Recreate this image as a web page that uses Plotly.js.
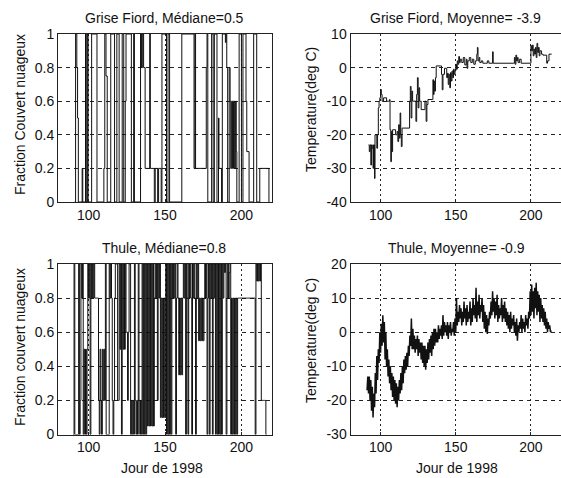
<!DOCTYPE html>
<html><head><meta charset="utf-8">
<script src="https://cdn.plot.ly/plotly-3.0.1.min.js"></script>
<style>html,body{margin:0;padding:0;background:#fff}#chart{width:561px;height:478px}</style>
</head><body><div id="chart"></div>
<script>
// ---- tick labels ----
const xTickVals = [100, 150, 200];
const xTickText = ['100', '150', '200'];
const cloudTickVals = [0, 0.2, 0.4, 0.6, 0.8, 1];
const cloudTickText = ['0', '0.2', '0.4', '0.6', '0.8', '1'];
const gfTempTickVals = [-40, -30, -20, -10, 0, 10];
const gfTempTickText = ['-40', '-30', '-20', '-10', '0', '10'];
const thTempTickVals = [-30, -20, -10, 0, 10, 20];
const thTempTickText = ['-30', '-20', '-10', '0', '10', '20'];

// ---- Grise Fiord cloud fraction (step changes) ----
const gfCloudDay = [91.0,91.5,92.3,92.8,93.3,95.8,96.2,98.0,98.5,99.2,99.7,102.0,105.5,110.0,110.6,111.4,112.2,114.5,117.0,118.5,
  120.0,122.0,123.0,124.0,124.5,128.0,129.5,130.0,134.0,134.6,135.4,136.0,137.0,140.0,140.4,143.0,143.6,145.2,145.8,147.5,
  148.0,151.0,152.0,153.0,161.0,169.0,169.6,170.0,177.0,177.5,178.0,180.5,181.5,182.3,184.0,185.0,185.3,187.0,187.5,189.5,
  190.0,190.4,191.0,192.0,192.6,193.0,193.6,194.2,194.8,195.4,196.2,196.6,197.0,198.5,200.0,201.0,203.0,203.5,205.0,208.0,
  210.0,212.0,218.0];
const gfCloud = [0,1,0.8,0.5,0,0.2,0,1,0,1,0,1,0,0.2,1,0.75,0,1,0,1,
  0,1,0,0.6,1,0,1,0,1,0.8,1,0.8,0.2,1,0.2,0,0.2,0,0.2,0,
  1,0,1,0,1,0.2,1,0.2,0.8,1,0,1,0,1,0,0.5,0.2,0,1,0.95,
  1,0.8,0,0.8,0.6,0.2,0.6,0.2,0.6,0.2,0.6,0.3,0,1,0,1,0.6,0.3,0,1,
  0,0.2,0];

// ---- Grise Fiord temperature (step changes) ----
const gfTempDay = [92.0,92.5,93.0,93.5,94.0,94.5,95.0,95.3,96.0,96.3,97.5,98.0,98.5,99.0,99.5,100.0,100.5,101.0,102.0,104.0,
  106.0,106.3,106.8,107.2,107.6,108.0,110.0,111.0,111.5,112.0,112.5,113.0,113.4,113.8,114.3,115.0,119.3,119.8,120.3,120.8,
  121.3,123.0,123.5,124.0,124.5,125.0,125.5,126.0,127.0,129.0,129.5,130.3,130.8,131.5,134.5,134.8,135.2,135.6,136.0,136.5,
  137.0,140.0,140.5,141.0,141.5,142.5,144.0,144.5,145.0,145.5,146.0,146.5,147.0,147.5,148.0,148.5,149.0,149.5,150.0,150.5,
  151.0,151.5,152.0,152.5,153.0,154.0,155.0,156.0,157.0,157.5,158.0,159.0,160.0,161.0,162.0,163.0,164.0,164.4,164.8,165.5,
  166.0,167.0,168.0,170.0,171.0,172.0,174.5,174.9,188.5,189.0,189.5,190.0,190.5,191.0,191.5,192.5,193.5,199.6,200.0,200.5,
  201.0,201.5,202.0,202.5,203.0,203.5,204.0,204.5,205.0,205.5,206.0,207.0,208.0,210.0,210.5,211.0,212.0,213.8];
const gfTemp = [-23,-25,-23,-29,-23,-24,-30,-23,-33,-20,-24,-20,-12,-10,-9,-6.5,-8,-10,-9,-10,
  -9.5,-18.5,-28,-19,-25,-18.5,-20,-19,-22,-17,-21,-13.5,-20,-23.5,-18,-18,-10,-5.6,-15,-7,
  -10,-10,-16,-8,-3,-12,-6,-10,-12.5,-12.5,-10,-16,-11,-9.5,-9.5,-3.6,-8,-4,-7,-3,
  0.5,0.5,-2,-6.6,-2,-0.2,-3,-1.7,-5,-2,-6,-1.5,-4,-1,-3,-0.5,-2,-1,1,-0.5,
  2,1,3.3,1.5,2.5,1.5,3,0.8,2.5,-0.2,2,3,1.5,2.5,1,2,4,6,2,3,
  1.5,2,1.3,1.3,2,1.3,4.7,1.3,1.3,3,1,3.7,2,3,1.5,2.5,1.3,1.3,6.5,5,
  6.7,3.5,5.5,4,6,3,7.2,4.5,6,3.5,5,4,3.7,3.7,1.3,2,4,4];

// ---- Thule cloud fraction, half-day samples from day 90 ----
const thCloudStartDay = 90, thCloudStepDays = 0.5;
const thCloud = [
  0,1, 0,0, 0,0, 0,1, 0,0.2, 1,0.8, 1,0, 0.5,0, 0.5,0, 0.5,1,          // 90-99
  0.8,1, 0,1, 0.8,1, 0.8,1, 0.8,0.8, 0.8,0.8, 0.8,0.2, 0,0.5, 0.2,0, 0.5,0.2, // 100-109
  0.5,0.2, 1,0, 0,0, 0,1, 0.8,1, 0.8,0.2, 0,0.2, 0.8,1, 1,1, 0.2,0.2,  // 110-119
  1,0.5, 1,0, 1,0.5, 1,0.5, 1,0.6, 0.6,0.2, 0.6,1, 1,0, 0.2,0, 0.2,0,  // 120-129
  1,0.2, 0,0.2, 0,1, 0.2,0, 0.2,0, 1,0, 1,0, 1,0, 1,0.05, 1,0.05,      // 130-139
  1,0.05, 1,0.05, 1,0.05, 0.8,1, 0.8,1, 0.2,1, 0.8,1, 0.1,0.8, 0.1,0.8, 0.1,0.8, // 140-149
  0.1,1, 0,1, 0,1, 0,1, 0,1, 0.8,1, 0.8,1, 0,0.8, 1,0.8, 0.35,0.8,     // 150-159
  0.35,0.8, 0.35,0.8, 1,0.8, 1,0, 1,0.8, 0,1, 0.8,1, 0.8,0, 1,0.8, 1,0.8, // 160-169
  0,1, 0.8,1, 0.55,0.8, 0.55,0.8, 0.55,0.8, 0.55,0.8, 1,0.8, 1,0, 0.8,1, 0,1, // 170-179
  0.8,1, 0,1, 0.8,1, 0,1, 0,1, 0,1, 0,1, 0,1, 0.8,1, 0.95,1,          // 180-189
  0,0.8, 1,0.8, 0.95,1, 0,0.8, 0,0.8, 0,0.8, 0,0.8, 0,0.8, 0.8,0.8, 0.8,0.8, // 190-199
  0.8,0.8, 0.8,0.8, 0.8,0.8, 0.8,0.8, 0.8,0.8, 0.8,0.8, 0.8,0.8, 0.8,0.8, 0.8,0.8, 0,1, // 200-209
  0.9,1, 0.9,1, 0.9,1, 0.2,0.2, 0.2,0.2, 0.2,0.2, 0,0];              // 210-216

// ---- Thule temperature, half-day samples from day 91 ----
const thTempStartDay = 91, thTempStepDays = 0.5;
const thTemp = [
  -17,-13, -18,-13, -20,-14, -23,-16, -25,-18, -22,-12, -18,-7, -14,-5, -9,0,        // 91-99
  -6,2.5, -4,5, -3,3, -8,0, -10,-5, -13,-8, -15,-10, -17,-12, -19,-13, -20,-14,       // 100-109
  -21,-15, -22,-16, -20,-14, -18,-12, -17,-10, -15,-8, -12,-7, -11,-6, -10,-4, -7,-1, // 110-119
  -4,4, -5,1, -5,-1, -6,-2, -5,-1, -7,-2, -6,-3, -8,-3, -9,-4, -10,-4,               // 120-129
  -11,-5, -9,-3, -8,-2, -6,-1, -7,0, -5,1, -4,1, -3,0, -3,2, -2,1,                    // 130-139
  -1,2, -2,5, -1,3, 0,2, -1,3, -2,2, 0,3, -1,1, 0,3, -1,4,                            // 140-149
  0,10, 2,6, 3,8, 4,7, 2,6, 3,9, 4,7, 2,8, 3,6, 4,9,                                  // 150-159
  2,7, 3,10, 5,8, 4,13, 3,9, 5,11, 4,8, 6,10, 3,8, 1,6,                               // 160-169
  0,5, -0.5,4, 2,6, 4,9, 5,12, 6,10, 4,9, 5,11, 3,8, 4,7,                             // 170-179
  5,10, 3,8, 4,9, 3,7, 2,6, 1,5, 0,6, 1,4, 2,5, 0,3,                                  // 180-189
  -1,4, -2.5,2, 0,3, 1,5, 0,4, 1,3, 0,5, 2,4, 1,6, 4,12,                              // 190-199
  5,14, 6,12, 4,13, 7,14.5, 5,12, 6,11, 3,10, 4,8, 3,7, 2,6,                          // 200-209
  1,4, 0,3, 1,2, 0,0.5];                                                               // 210-213

const FONT = '"Liberation Sans", Arial, Helvetica, sans-serif';
const INK = '#111';
const lineStyle = {color: INK, width: 1};

const traces = [
  {x: gfCloudDay, y: gfCloud, type: 'scatter', mode: 'lines', line: Object.assign({shape: 'hv'}, lineStyle), xaxis: 'x', yaxis: 'y'},
  {x: gfTempDay, y: gfTemp, type: 'scatter', mode: 'lines', line: Object.assign({shape: 'hv'}, lineStyle), xaxis: 'x2', yaxis: 'y2'},
  {x0: thCloudStartDay, dx: thCloudStepDays, y: thCloud, type: 'scatter', mode: 'lines', line: Object.assign({shape: 'hv'}, lineStyle), xaxis: 'x3', yaxis: 'y3'},
  {x0: thTempStartDay, dx: thTempStepDays, y: thTemp, type: 'scatter', mode: 'lines', line: {color: INK, width: 1.5}, xaxis: 'x4', yaxis: 'y4'}
];

const W = 561, H = 478;
const px = v => v / W, py = v => (H - v) / H;

function xa(d, anchor) {
  return {domain: d, range: [80, 220], anchor: anchor, tickvals: xTickVals, ticktext: xTickText,
    showline: true, mirror: true, linecolor: '#222', linewidth: 1, ticks: 'inside', ticklen: 3, tickcolor: '#222',
    showgrid: true, gridcolor: '#222', gridwidth: 1, griddash: '2px,3px', zeroline: false,
    tickfont: {family: FONT, size: 14, color: INK}, fixedrange: true};
}
function ya(d, anchor, r, tv, tt) {
  return {domain: d, range: r, anchor: anchor, tickvals: tv, ticktext: tt,
    showline: true, mirror: true, linecolor: '#222', linewidth: 1, ticks: 'inside', ticklen: 3, tickcolor: '#222',
    showgrid: true, gridcolor: '#222', gridwidth: 1, griddash: '4px,4px', zeroline: false,
    tickfont: {family: FONT, size: 14, color: INK}, fixedrange: true};
}

const topD = [py(202), py(34)], botD = [py(434.5), py(264)];
const leftD = [px(58), px(272)], rightD = [px(350.5), 1];

function ann(text, x, y, angle) {
  return {text: text, x: px(x), y: py(y), xref: 'paper', yref: 'paper', showarrow: false,
    xanchor: 'center', yanchor: 'middle', textangle: angle || 0, font: {family: FONT, size: 14, color: INK}};
}

const layout = {
  width: W, height: H, margin: {l: 0, r: 0, t: 0, b: 0}, paper_bgcolor: '#fff', plot_bgcolor: '#fff',
  showlegend: false,
  xaxis: xa(leftD, 'y'), yaxis: ya(topD, 'x', [0, 1], cloudTickVals, cloudTickText),
  xaxis2: xa(rightD, 'y2'), yaxis2: ya(topD, 'x2', [-40, 10], gfTempTickVals, gfTempTickText),
  xaxis3: xa(leftD, 'y3'), yaxis3: ya(botD, 'x3', [0, 1], cloudTickVals, cloudTickText),
  xaxis4: xa(rightD, 'y4'), yaxis4: ya(botD, 'x4', [-30, 20], thTempTickVals, thTempTickText),
  annotations: [
    ann('Grise Fiord, Médiane=0.5', 164, 18),
    ann('Grise Fiord, Moyenne= -3.9', 455, 18),
    ann('Thule, Médiane=0.8', 164, 248),
    ann('Thule, Moyenne= -0.9', 456, 248),
    ann('Fraction Couvert nuageux', 20, 115, -90),
    ann('Temperature(deg C)', 311, 110, -90),
    ann('Fraction couvert nuageux', 20, 347, -90),
    ann('Temperature(deg C)', 311, 341, -90),
    ann('Jour de 1998', 162, 468),
    ann('Jour de 1998', 457, 468)
  ]
};

Plotly.newPlot('chart', traces, layout, {displayModeBar: false, staticPlot: true});
</script>
</body></html>
